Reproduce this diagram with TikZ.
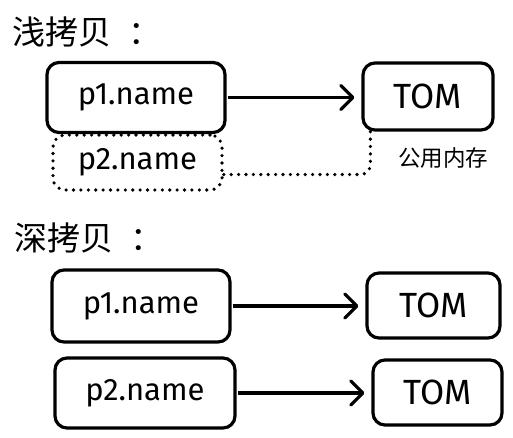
\documentclass[tikz,border=0pt]{standalone}
\usepackage{fontspec}
\setmainfont{Fira Sans}
\newfontfamily\cjk{Noto Sans CJK SC}
\usetikzlibrary{arrows.meta}
\begin{document}
\begin{tikzpicture}[x=1pt,y=-1pt,
  box/.style={draw, line width=3.2pt, rounded corners=12pt, inner sep=0pt, font=\fontsize{31}{34}\selectfont},
  tombox/.style={box, font=\fontsize{35}{38}\selectfont},
  dotbox/.style={box, line width=3.6pt, line cap=round, dash pattern=on 0pt off 7.4pt},
  arr/.style={line width=3.2pt, -{Straight Barb[length=12pt,width=24pt,line cap=round,line join=round]}, shorten >=7pt, shorten <=1pt},
  dotline/.style={line width=3.6pt, line cap=round, dash pattern=on 0pt off 7.4pt, rounded corners=10pt},
  title/.style={anchor=west, inner sep=0pt, font=\cjk\fontsize{33}{36}\selectfont},
  note/.style={inner sep=0pt, font=\cjk\fontsize{22.5}{24}\selectfont}]
\useasboundingbox (0,0) rectangle (513,437);
\fill[white] (0,0) rectangle (513,437);
% shallow copy
\node[title] (h1) at (12,32) {浅拷贝\hspace{17pt}：};
\node[box, minimum width=178pt, minimum height=70pt] (a1) at (136,97.5) {p1.name};
\node[tombox, minimum width=130pt, minimum height=67pt] (t1) at (428,96.5) {TOM};
\node[dotbox, minimum width=169pt, minimum height=55pt] (a2) at (137.5,162.5) {p2.name};
\draw[arr] (a1.east) -- (a1.east -| t1.west);
\draw[dotline] ([yshift=-12pt]a2.east) -| ([xshift=9pt]t1.south west);
\node[note] (n1) at (443,158) {公用内存};
% deep copy
\node[title] (h2) at (14,238) {深拷贝\hspace{17pt}：};
\node[box, minimum width=178pt, minimum height=72pt] (b1) at (141,306) {p1.name};
\node[tombox, minimum width=133pt, minimum height=65pt] (t2) at (433.5,305.5) {TOM};
\node[box, minimum width=180pt, minimum height=70pt] (b2) at (145,393) {p2.name};
\node[tombox, minimum width=129pt, minimum height=65pt] (t3) at (437.5,392.5) {TOM};
\draw[arr] (b1.east) -- (b1.east -| t2.west);
\draw[arr] (b2.east) -- (b2.east -| t3.west);
\end{tikzpicture}
\end{document}
